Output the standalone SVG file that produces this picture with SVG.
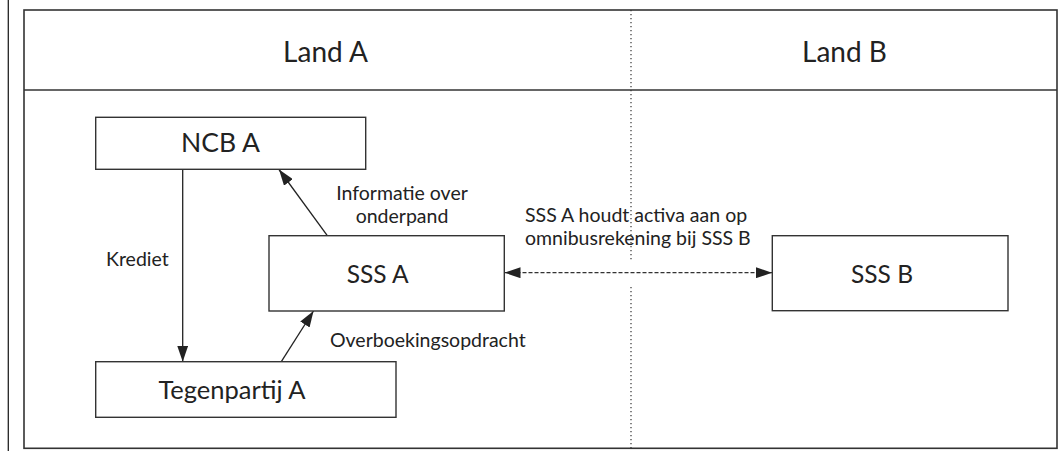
<svg xmlns="http://www.w3.org/2000/svg" width="1062" height="454" viewBox="0 0 1062 454">
<style>
.box{fill:#fff;stroke:#333;stroke-width:1.4}
.frame{fill:none;stroke:#333;stroke-width:1.6}
.ln{fill:none;stroke:#222;stroke-width:1.3}
.dash{fill:none;stroke:#333;stroke-width:1.3;stroke-dasharray:4 2}
.dot{fill:none;stroke:#333;stroke-width:1.2;stroke-dasharray:1.3 2.7}
.t{font-family:Lato,"Open Sans","Liberation Sans",sans-serif;fill:#222}
.big{font-size:28px;text-anchor:middle}
.node{font-size:24.5px;text-anchor:middle}
.lbl{font-size:19.5px}
</style>
<defs>
<marker id="ah" markerUnits="userSpaceOnUse" markerWidth="16" markerHeight="11" refX="16" refY="5.5" orient="auto-start-reverse">
<path d="M0,0 L16,5.5 L0,11 z" fill="#222"/>
</marker>
</defs>
<line x1="8.3" y1="0" x2="8.3" y2="451" class="ln"/>
<g id="frame">
<rect x="24" y="10" width="1033" height="438.3" class="frame"/>
<line x1="24" y1="90" x2="1057" y2="90" class="frame"/>
<line x1="631" y1="10" x2="631" y2="261.5" class="dot"/>
<line x1="631" y1="287" x2="631" y2="448" class="dot"/>
<text x="325.5" y="62" class="t big">Land A</text>
<text x="844.5" y="62" class="t big">Land B</text>
</g>
<g id="connectors">
<line x1="182.7" y1="169.3" x2="182.7" y2="361.7" class="ln" marker-end="url(#ah)"/>
<line x1="327.3" y1="235.7" x2="279" y2="169.5" class="ln" marker-end="url(#ah)"/>
<line x1="281.3" y1="361.7" x2="313.5" y2="311" class="ln" marker-end="url(#ah)"/>
<line x1="504.5" y1="272.7" x2="772" y2="272.7" class="dash" marker-start="url(#ah)" marker-end="url(#ah)"/>
<text x="106" y="266" class="t lbl">Krediet</text>
<text x="402" y="200" class="t lbl" text-anchor="middle">Informatie over</text>
<text x="402" y="223.3" class="t lbl" text-anchor="middle">onderpand</text>
<text x="330" y="346.7" class="t lbl">Overboekingsopdracht</text>
<text x="525" y="221.7" class="t lbl">SSS A houdt activa aan op</text>
<text x="525" y="245" class="t lbl">omnibusrekening bij SSS B</text>
</g>
<g id="ncb-a">
<rect x="95.7" y="117.3" width="270" height="52" class="box"/>
<text x="220.5" y="152" class="t node" style="font-size:26.5px">NCB A</text>
</g>
<g id="sss-a">
<rect x="269" y="235.7" width="235.3" height="75.3" class="box"/>
<text x="377.7" y="282.7" class="t node">SSS A</text>
</g>
<g id="tegenpartij-a">
<rect x="95.7" y="361.7" width="300.3" height="55.6" class="box"/>
<text x="232" y="399" class="t node" style="font-size:25.5px">Tegenpartij A</text>
</g>
<g id="sss-b">
<rect x="772.3" y="235.7" width="235.7" height="75" class="box"/>
<text x="882" y="283.3" class="t node">SSS B</text>
</g>
</svg>
